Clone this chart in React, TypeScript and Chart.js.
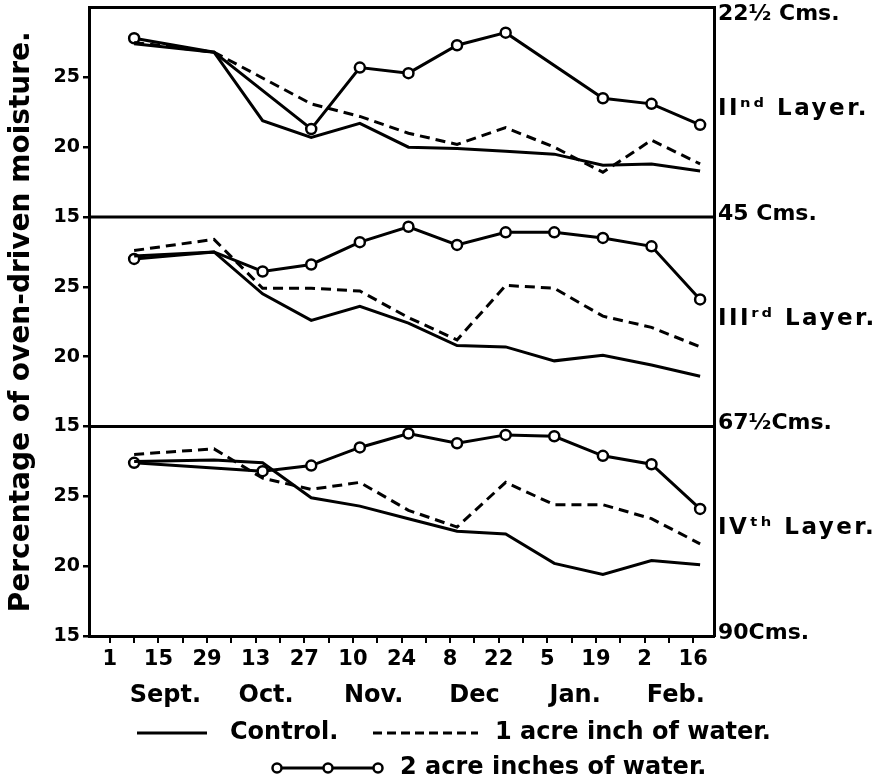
import React, { useEffect, useRef } from 'react';
import { Chart, registerables } from 'chart.js';

Chart.register(...registerables);

const FONT = '"DejaVu Sans", sans-serif';

// x values: days counted from 1 September (as plotted in the original)
const sampleDays = [7, 30, 44, 58, 72, 86, 100, 114, 128, 142, 156, 170];

// II layer (22½ – 45 cms)
const controlII = [27.4, 26.8, 21.9, 20.7, 21.7, 20.0, 19.9, 19.7, 19.5, 18.7, 18.8, 18.3];
const oneInchII = [27.5, 26.8, null, 23.1, 22.2, 21.0, 20.2, 21.4, 20.0, 18.2, 20.5, 18.8];
const twoInchII = [27.8, 26.8, null, 21.3, 25.7, 25.3, 27.3, 28.2, null, 23.5, 23.1, 21.6];

// III layer (45 – 67½ cms)
const controlIII = [27.2, 27.5, 24.5, 22.6, 23.6, 22.4, 20.8, 20.7, 19.7, 20.1, 19.4, 18.6];
const oneInchIII = [27.6, 28.4, 24.9, 24.9, 24.7, 22.8, 21.2, 25.1, 24.9, 22.9, 22.1, 20.7];
const twoInchIII = [27.0, 27.5, 26.1, 26.6, 28.2, 29.3, 28.0, 28.9, 28.9, 28.5, 27.9, 24.1];

// IV layer (67½ – 90 cms)
const controlIV = [27.5, 27.6, 27.4, 24.9, 24.3, 23.4, 22.5, 22.3, 20.2, 19.4, 20.4, 20.1];
const oneInchIV = [28.0, 28.4, 26.3, 25.5, 26.0, 24.0, 22.8, 26.0, 24.4, 24.4, 23.4, 21.6];
const twoInchIV = [27.4, null, 26.8, 27.2, 28.5, 29.5, 28.8, 29.4, 29.3, 27.9, 27.3, 24.1];

// axis ticks and labels
const weekTickDays = [0, 7, 14, 21, 28, 35, 42, 49, 56, 63, 70, 77, 84, 91, 98, 105, 112, 119, 126, 133, 140, 147, 154, 161, 168];
const dateTickDays = [0, 14, 28, 42, 56, 70, 84, 98, 112, 126, 140, 154, 168];
const dateLabels = ['1', '15', '29', '13', '27', '10', '24', '8', '22', '5', '19', '2', '16'];
const monthDays = [16, 45, 76, 105, 134, 163];
const monthLabels = ['Sept.', 'Oct.', 'Nov.', 'Dec', 'Jan.', 'Feb.'];
const moistureTicks = [15, 20, 25];
const depthTicks = [22.5, 33.75, 45, 56.25, 67.5, 78.75, 90];
const depthLabels = ['22½ Cms.', 'IIⁿᵈ Layer.', '45 Cms.', 'IIIʳᵈ Layer.', '67½Cms.', 'IVᵗʰ Layer.', '90Cms.'];
const seriesNames = ['Control.', '1 acre inch of water.', '2 acre inches of water.'];
const yTitle = 'Percentage of oven-driven moisture.';

const framePlugin = {
  id: 'panelFrame',
  beforeDatasetsDraw(chart: any) {
    const { ctx, chartArea } = chart;
    const { left, right, top } = chartArea;
    ctx.save();
    ctx.strokeStyle = '#000';
    ctx.lineWidth = 3;
    ctx.beginPath();
    ctx.moveTo(left - 1, top);
    ctx.lineTo(right + 1, top);
    for (const id of ['y1', 'y2']) {
      const y = chart.scales[id].getPixelForValue(15);
      ctx.moveTo(left, y);
      ctx.lineTo(right, y);
    }
    ctx.stroke();
    ctx.restore();
  },
};

const depthLabelPlugin = {
  id: 'depthLabels',
  afterDraw(chart: any) {
    const s = chart.scales.yr;
    const ctx = chart.ctx;
    ctx.save();
    ctx.fillStyle = '#000';
    ctx.textAlign = 'left';
    ctx.textBaseline = 'middle';
    depthTicks.forEach((v, i) => {
      const isLayer = i % 2 === 1;
      ctx.font = `bold ${isLayer ? 23 : 22}px ${FONT}`;
      ctx.letterSpacing = isLayer ? '2.5px' : '0px';
      const y = Math.max(s.getPixelForValue(v) - 3, 14);
      ctx.fillText(depthLabels[i], chart.chartArea.right + 4, y);
    });
    ctx.restore();
  },
};

const legendPlugin = {
  id: 'handLegend',
  afterDraw(chart: any) {
    const ctx = chart.ctx;
    ctx.save();
    ctx.strokeStyle = '#000';
    ctx.fillStyle = '#000';
    ctx.lineWidth = 3;
    ctx.font = `bold 24px ${FONT}`;
    ctx.textBaseline = 'middle';
    ctx.textAlign = 'left';
    const r1 = 733;
    const r2 = 768;
    // control
    ctx.beginPath();
    ctx.moveTo(137, r1);
    ctx.lineTo(207, r1);
    ctx.stroke();
    ctx.fillText(seriesNames[0], 230, r1);
    // 1 acre inch
    ctx.setLineDash([9, 5]);
    ctx.beginPath();
    ctx.moveTo(373, r1);
    ctx.lineTo(478, r1);
    ctx.stroke();
    ctx.setLineDash([]);
    ctx.fillText(seriesNames[1], 495, r1);
    // 2 acre inches
    ctx.beginPath();
    ctx.moveTo(275, r2);
    ctx.lineTo(378, r2);
    ctx.stroke();
    ctx.lineWidth = 2.5;
    for (const cx of [277, 328, 378]) {
      ctx.beginPath();
      ctx.arc(cx, r2, 4.5, 0, Math.PI * 2);
      ctx.fillStyle = '#fff';
      ctx.fill();
      ctx.stroke();
    }
    ctx.fillStyle = '#000';
    ctx.fillText(seriesNames[2], 400, r2);
    ctx.restore();
  },
};

function yAxis(weight: number, withTitle: boolean) {
  return {
    type: 'linear',
    position: 'left',
    stack: 'layers',
    stackWeight: 1,
    weight,
    min: 15,
    max: 30,
    afterBuildTicks: (s: any) => {
      s.ticks = moistureTicks.map((v) => ({ value: v }));
    },
    afterFit: (s: any) => {
      s.width = 89;
    },
    grid: { drawOnChartArea: false, drawTicks: true, tickLength: 6, color: '#000', lineWidth: 2.5 },
    border: { display: true, color: '#000', width: 3 },
    ticks: {
      color: '#000',
      padding: 3,
      autoSkip: false,
      font: { family: FONT, size: 19, weight: 'bold', lineHeight: 0.3 },
      callback: (v: number) => String(v),
    },
    title: withTitle
      ? {
          display: true,
          text: yTitle,
          color: '#000',
          font: { family: FONT, size: 28, weight: 'bold', lineHeight: 1.2 },
          padding: { top: 5, bottom: 0 },
        }
      : { display: false },
  };
}

export default function App() {
  const ref = useRef<HTMLCanvasElement>(null);

  useEffect(() => {
    const canvas = ref.current;
    if (!canvas) return;
    const panels = [
      { axis: 'y1', control: controlII, one: oneInchII, two: twoInchII },
      { axis: 'y2', control: controlIII, one: oneInchIII, two: twoInchIII },
      { axis: 'y3', control: controlIV, one: oneInchIV, two: twoInchIV },
    ];
    const toPoints = (arr: (number | null)[]) => sampleDays.map((x, i) => ({ x, y: arr[i] }));
    const datasets: any[] = [];
    panels.forEach((p) => {
      const base = {
        xAxisID: 'x',
        yAxisID: p.axis,
        borderColor: '#000',
        borderWidth: 3,
        tension: 0,
        spanGaps: true,
        fill: false,
      };
      datasets.push({ ...base, label: seriesNames[0], data: toPoints(p.control), pointRadius: 0 });
      datasets.push({ ...base, label: seriesNames[1], data: toPoints(p.one), pointRadius: 0, borderDash: [10, 6] });
      datasets.push({
        ...base,
        label: seriesNames[2],
        data: toPoints(p.two),
        pointRadius: (c: any) => (c.dataIndex === 1 ? 0 : 5),
        pointBackgroundColor: '#fff',
        pointBorderColor: '#000',
        pointBorderWidth: 2.5,
      });
    });

    const chart = new Chart(canvas, {
      type: 'line',
      data: { datasets },
      plugins: [framePlugin, depthLabelPlugin, legendPlugin],
      options: {
        animation: false,
        responsive: false,
        devicePixelRatio: 1,
        layout: { padding: { top: 7, right: 0, bottom: 72, left: 0 } },
        plugins: { legend: { display: false }, tooltip: { enabled: false } },
        scales: {
          x: {
            type: 'linear',
            position: 'bottom',
            min: -6,
            max: 174,
            afterBuildTicks: (s: any) => {
              s.ticks = weekTickDays.map((v) => ({ value: v }));
            },
            afterFit: (s: any) => {
              s.height = 36;
            },
            grid: { drawOnChartArea: false, drawTicks: true, tickLength: 7, color: '#000', lineWidth: 2 },
            border: { display: true, color: '#000', width: 3 },
            ticks: {
              color: '#000',
              padding: 4,
              autoSkip: false,
              maxRotation: 0,
              font: { family: FONT, size: 21, weight: 'bold' },
              callback: (v: number) => {
                const i = dateTickDays.indexOf(v);
                return i >= 0 ? dateLabels[i] : '';
              },
            },
          },
          xm: {
            type: 'linear',
            position: 'bottom',
            min: -6,
            max: 174,
            afterBuildTicks: (s: any) => {
              s.ticks = monthDays.map((v) => ({ value: v }));
            },
            afterFit: (s: any) => {
              s.height = 38;
            },
            grid: { display: false },
            border: { display: false },
            ticks: {
              color: '#000',
              padding: 1,
              autoSkip: false,
              maxRotation: 0,
              font: { family: FONT, size: 24, weight: 'bold' },
              callback: (v: number) => {
                const i = monthDays.indexOf(v);
                return i >= 0 ? monthLabels[i] : '';
              },
            },
          },
          y1: yAxis(3, false),
          y2: yAxis(2, true),
          y3: yAxis(1, false),
          yr: {
            type: 'linear',
            position: 'right',
            reverse: true,
            min: 22.5,
            max: 90,
            afterBuildTicks: (s: any) => {
              s.ticks = depthTicks.map((v) => ({ value: v }));
            },
            afterFit: (s: any) => {
              s.width = 169;
            },
            grid: { display: false },
            border: { display: true, color: '#000', width: 3 },
            ticks: { display: false },
          },
        } as any,
      },
    } as any);

    return () => chart.destroy();
  }, []);

  return (
    <div style={{ position: 'absolute', left: 0, top: 0, width: 883, height: 782, background: '#fff' }}>
      <canvas ref={ref} width={883} height={782} style={{ display: 'block' }} />
    </div>
  );
}
